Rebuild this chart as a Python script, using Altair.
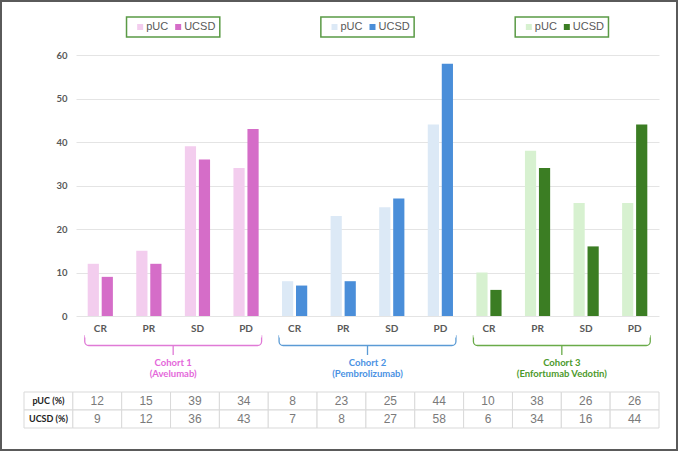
import altair as alt
import pandas as pd

# ---- data -------------------------------------------------------------
cohorts = ["Cohort 1", "Cohort 2", "Cohort 3"]
drugs = ["(Avelumab)", "(Pembrolizumab)", "(Enfortumab Vedotin)"]
responses = ["CR", "PR", "SD", "PD"]
series = ["pUC", "UCSD"]
puc = [12, 15, 39, 34, 8, 23, 25, 44, 10, 38, 26, 26]
ucsd = [9, 12, 36, 43, 7, 8, 27, 58, 6, 34, 16, 44]
row_labels = ["pUC (%)", "UCSD (%)"]
y_ticks = [0, 10, 20, 30, 40, 50, 60]

# ---- styling ------------------------------------------------------------
light = ["#f3cdee", "#dce9f6", "#d7f1d0"]
dark = ["#d56dc8", "#4a8ed9", "#3b7d23"]
accent = ["#e07ad6", "#5b9bd5", "#6aab49"]
label_col = ["#e468da", "#4b92e3", "#4d9a2c"]
box_col = "#5a9a45"
axis_grey = "#595959"

PLOT_X = [76, 659]      # horizontal extent of the bar area
PLOT_Y = [316, 55]      # y pixel range for 0..60
W, H = 678, 451

# ---- tables ---------------------------------------------------------------
keys = [f"{ci + 1}|{r}" for ci in range(3) for r in responses]

bar_rows = []
for i, k in enumerate(keys):
    ci = i // 4
    bar_rows.append(dict(key=k, series="pUC", value=puc[i], shade=f"pUC {ci}"))
    bar_rows.append(dict(key=k, series="UCSD", value=ucsd[i], shade=f"UCSD {ci}"))
bars_df = pd.DataFrame(bar_rows)
shade_domain = [f"{s} {ci}" for ci in range(3) for s in series]
shade_range = [c for ci in range(3) for c in (light[ci], dark[ci])]

cols = ["hdr"] + keys
table_rows = []
for lab, vals in zip(row_labels, [puc, ucsd]):
    table_rows.append(dict(col="hdr", row=lab, text=lab, kind="head"))
    for k, v in zip(keys, vals):
        table_rows.append(dict(col=k, row=lab, text=str(v), kind="value"))
table_df = pd.DataFrame(table_rows)

ann_df = pd.DataFrame(dict(
    cohort=cohorts,
    label=[f"{c}\n{d}" for c, d in zip(cohorts, drugs)],
    accent=accent,
    text_color=label_col,
    light=light,
    dark=dark,
))

# ---- bars -----------------------------------------------------------------
bars = alt.Chart(bars_df).mark_bar().encode(
    x=alt.X(
        "key:N", sort=keys,
        scale=alt.Scale(domain=keys, range=PLOT_X, paddingInner=0, paddingOuter=0),
        axis=alt.Axis(
            title=None, orient="bottom", offset=PLOT_Y[0] - H,
            labelExpr="split(datum.label, '|')[1]", labelAngle=0, labelPadding=7,
            labelFont="Lato", labelFontWeight="bold", labelFontSize=10,
            labelColor=axis_grey, ticks=False, domain=False, grid=False,
        ),
    ),
    xOffset=alt.XOffset(
        "series:N", sort=series,
        scale=alt.Scale(domain=series, paddingInner=0.2, paddingOuter=0.835),
    ),
    y=alt.Y(
        "value:Q",
        scale=alt.Scale(domain=[0, 60], range=PLOT_Y, nice=False),
        axis=alt.Axis(
            title=None, values=y_ticks, offset=-PLOT_X[0], domain=False, ticks=False,
            labelPadding=9, labelFont="Lato", labelFontWeight="bold", labelFontSize=9.5,
            labelColor=axis_grey, grid=True, gridColor="#e4e4e4", gridWidth=1,
        ),
    ),
    color=alt.Color("shade:N", scale=alt.Scale(domain=shade_domain, range=shade_range), legend=None),
)

# ---- data table under the chart ----------------------------------------------
tx = alt.X("col:N", sort=cols,
           scale=alt.Scale(domain=cols, range=[24, 659], paddingInner=0, paddingOuter=0),
           axis=None)
ty = alt.Y("row:N", sort=row_labels,
           scale=alt.Scale(domain=row_labels, range=[392, 428], paddingInner=0, paddingOuter=0),
           axis=None)

cells = alt.Chart(table_df).mark_rect(fill="white", stroke="#d9d9d9", strokeWidth=1).encode(x=tx, y=ty)
head_text = alt.Chart(table_df).transform_filter("datum.kind == 'head'").mark_text(
    font="Lato", fontWeight="bold", fontSize=9, color="#222222"
).encode(x=tx, y=ty, text="text:N")
val_text = alt.Chart(table_df).transform_filter("datum.kind == 'value'").mark_text(
    font="Liberation Sans", fontSize=12, color="#7a7a7a"
).encode(x=tx, y=ty, text="text:N")

# ---- cohort brackets and names ------------------------------------------------
bx = alt.X("cohort:N", sort=cohorts,
           scale=alt.Scale(domain=cohorts, range=PLOT_X, paddingInner=0.09, paddingOuter=0.045),
           axis=None)

bracket = alt.Chart(ann_df).mark_bar(
    fillOpacity=0, strokeWidth=1.3, cornerRadiusBottomLeft=4, cornerRadiusBottomRight=4
).encode(x=bx, y=alt.value(336), y2=alt.value(345.5), stroke=alt.Stroke("accent:N", scale=None))
bracket_open = alt.Chart(ann_df).mark_bar(color="white").encode(
    x=bx, y=alt.value(334.5), y2=alt.value(337.6)
)
bracket_tick = alt.Chart(ann_df).mark_rule(strokeWidth=1.3).encode(
    x=bx, y=alt.value(345.5), y2=alt.value(355), stroke=alt.Stroke("accent:N", scale=None)
)
cohort_text = alt.Chart(ann_df).mark_text(
    font="Lato", fontWeight="bold", fontSize=9.5, lineBreak="\n", lineHeight=11, baseline="top"
).encode(x=bx, y=alt.value(358), text="label:N", color=alt.Color("text_color:N", scale=None))

# ---- per-cohort legend boxes ---------------------------------------------------
lx = alt.X("cohort:N", sort=cohorts,
           scale=alt.Scale(domain=cohorts, range=PLOT_X, paddingInner=0.52, paddingOuter=0.26),
           axis=None)
legend_box = alt.Chart(ann_df).mark_rect(fill="white", stroke=box_col, strokeWidth=1.5).encode(
    x=lx, y=alt.value(17), y2=alt.value(37)
)
sw_puc = alt.Chart(ann_df).mark_square(size=36, xOffset=-33, opacity=1, filled=True).encode(
    x=lx, y=alt.value(27), color=alt.Color("light:N", scale=None)
)
txt_puc = alt.Chart(ann_df).mark_text(
    text="pUC", align="left", baseline="middle", xOffset=-27,
    font="Liberation Sans", fontSize=11, color=axis_grey
).encode(x=lx, y=alt.value(27))
sw_ucsd = alt.Chart(ann_df).mark_square(size=36, xOffset=5, opacity=1, filled=True).encode(
    x=lx, y=alt.value(27), color=alt.Color("dark:N", scale=None)
)
txt_ucsd = alt.Chart(ann_df).mark_text(
    text="UCSD", align="left", baseline="middle", xOffset=11,
    font="Liberation Sans", fontSize=11, color=axis_grey
).encode(x=lx, y=alt.value(27))

chart = alt.layer(
    bars, cells, head_text, val_text,
    bracket, bracket_open, bracket_tick, cohort_text,
    legend_box, sw_puc, txt_puc, sw_ucsd, txt_ucsd,
).resolve_scale(
    x="independent", y="independent"
).properties(
    width=W, height=H, padding=0,
    autosize=alt.AutoSizeParams(type="none"),
    background="white",
).configure_view(
    stroke="#5a5a5a", strokeWidth=4
)

chart.save("out.html", embed_options={"renderer": "svg", "actions": False})
